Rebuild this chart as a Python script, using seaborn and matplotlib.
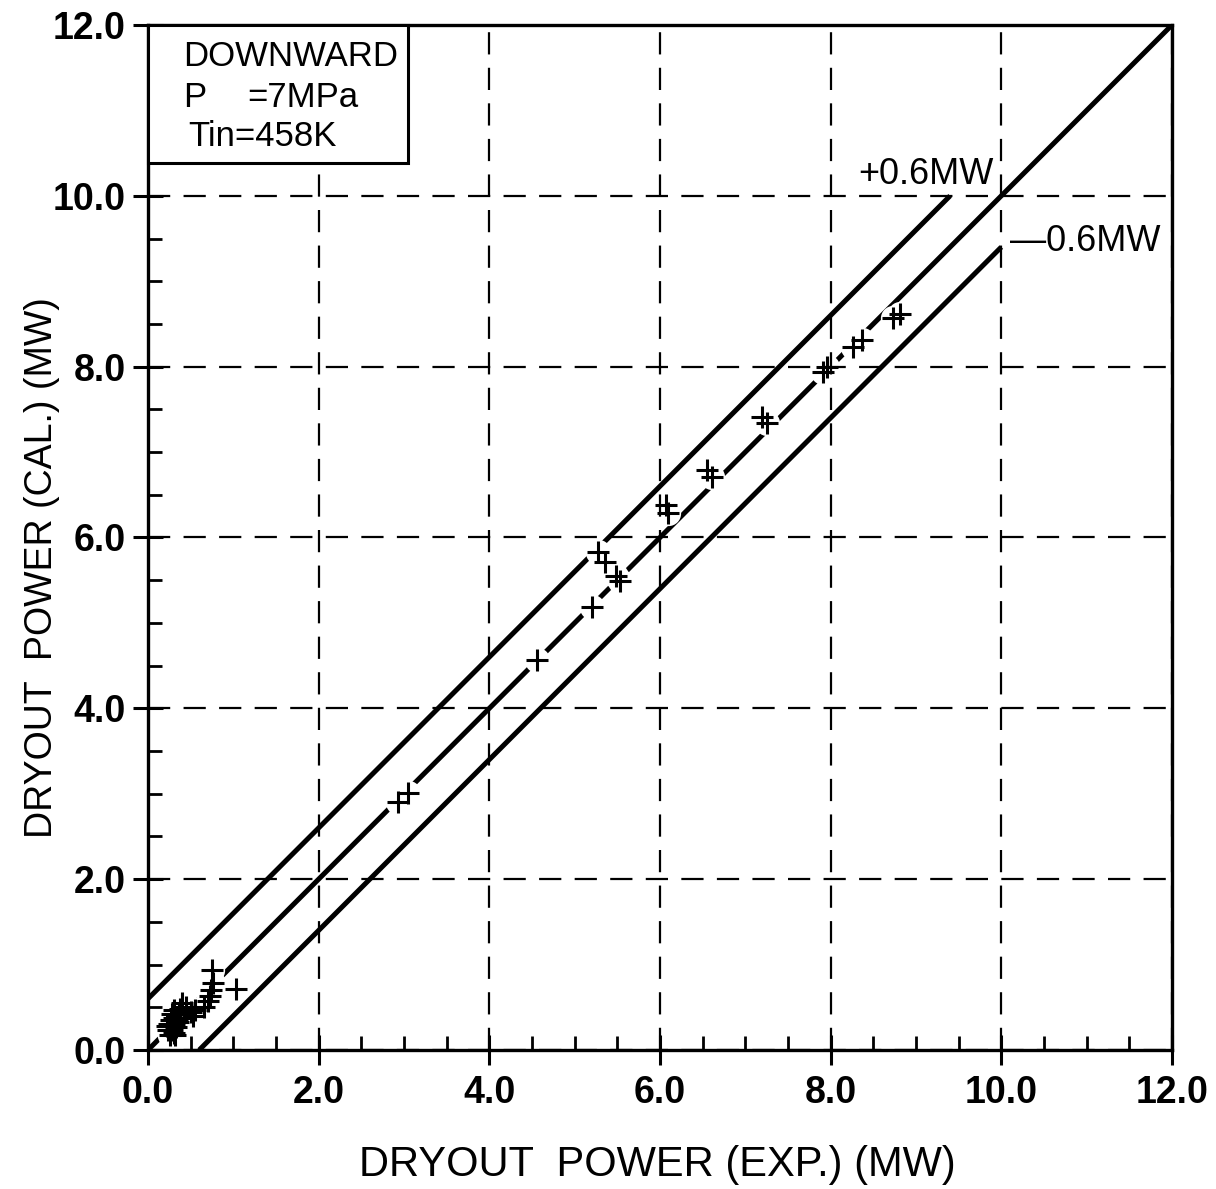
import matplotlib
matplotlib.use("Agg")
import matplotlib.pyplot as plt
from matplotlib.patches import Rectangle
import seaborn as sns
import pandas as pd

# ---- data ----
exp_power = [0.75, 1.03, 0.76, 0.74, 0.73, 0.70, 0.66, 0.55, 0.53, 0.50,
             0.45, 0.40, 0.38, 0.36, 0.34, 0.30, 0.28, 0.26, 0.30, 0.33,
             0.35, 0.38, 0.25, 0.24, 0.28, 0.31, 0.27, 0.32, 0.22, 0.30,
             2.93, 3.05, 4.56, 5.20, 5.27, 5.36, 5.49, 5.53,
             6.07, 6.09, 6.55, 6.61, 7.20, 7.25, 7.91, 7.96,
             8.26, 8.37, 8.73, 8.81]
cal_power = [0.94, 0.71, 0.78, 0.70, 0.63, 0.57, 0.50, 0.47, 0.40, 0.44,
             0.50, 0.55, 0.48, 0.42, 0.36, 0.30, 0.24, 0.18, 0.20, 0.27,
             0.33, 0.38, 0.30, 0.24, 0.42, 0.38, 0.35, 0.18, 0.28, 0.47,
             2.90, 3.01, 4.57, 5.19, 5.83, 5.71, 5.55, 5.49,
             6.38, 6.29, 6.79, 6.71, 7.41, 7.34, 7.94, 8.00,
             8.23, 8.31, 8.57, 8.62]

ref_x = [0.0, 12.0]
ref_y = [0.0, 12.0]
upper_x = [0.0, 9.4]
upper_y = [0.6, 10.0]
lower_x = [0.6, 10.0]
lower_y = [0.0, 9.4]

tick_values = [0, 2, 4, 6, 8, 10, 12]
tick_labels = ["0.0", "2.0", "4.0", "6.0", "8.0", "10.0", "12.0"]
minor_values = [0.5, 1.0, 1.5, 2.5, 3.0, 3.5, 4.5, 5.0, 5.5, 6.5, 7.0, 7.5,
                8.5, 9.0, 9.5, 10.5, 11.0, 11.5]

df = pd.DataFrame({"exp": exp_power, "cal": cal_power})

sns.set_style("ticks")
plt.rcParams["font.family"] = ["Liberation Sans", "DejaVu Sans"]
plt.rcParams["text.color"] = "black"
plt.rcParams["axes.labelcolor"] = "black"

fig = plt.figure(figsize=(12.16, 11.89), dpi=100)
ax = fig.add_axes([0.1217, 0.1169, 0.8421, 0.8621])

# reference lines
for xs, ys in [(ref_x, ref_y), (upper_x, upper_y), (lower_x, lower_y)]:
    sns.lineplot(x=xs, y=ys, ax=ax, color="black", linewidth=3.6,
                 sort=False, zorder=1, solid_capstyle="butt")

# white gaps in lines around points (as in the original drawing)
ax.scatter(df["exp"], df["cal"], marker="o", s=330, color="white",
           linewidths=0, zorder=2)

# data points
sns.scatterplot(data=df, x="exp", y="cal", ax=ax, marker="+", s=240,
                color="black", linewidth=2.2, zorder=3)

ax.set_xlim(0, 12)
ax.set_ylim(0, 12)
ax.set_xticks(tick_values)
ax.set_yticks(tick_values)
ax.set_xticklabels(tick_labels)
ax.set_yticklabels(tick_labels)
ax.set_xticks(minor_values, minor=True)
ax.set_yticks(minor_values, minor=True)

ax.set_axisbelow(False)
ax.grid(True, which="major", color="black", linewidth=1.6,
        linestyle=(0, (10, 6)))

ax.tick_params(which="major", direction="inout", length=22, width=2.2,
               labelsize=27, pad=5, colors="black",
               bottom=True, left=True, top=False, right=False)
ax.tick_params(axis="x", which="major", pad=7)
ax.tick_params(which="minor", direction="in", length=10, width=2.0,
               colors="black", bottom=True, left=True, top=False, right=False)
for lab in ax.get_xticklabels() + ax.get_yticklabels():
    lab.set_fontweight("bold")

for sp in ax.spines.values():
    sp.set_visible(True)
    sp.set_linewidth(2.4)
    sp.set_color("black")

ax.set_xlabel("DRYOUT  POWER (EXP.) (MW)", fontsize=30)
ax.set_ylabel("DRYOUT  POWER (CAL.) (MW)", fontsize=27)
ax.xaxis.set_label_coords(0.497, -0.093)
ax.yaxis.set_label_coords(-0.086, 0.471)

# info box
box = Rectangle((0.0, 0.865), 0.254, 0.135, transform=ax.transAxes,
                facecolor="white", edgecolor="black", linewidth=2.2,
                zorder=5, clip_on=False)
ax.add_patch(box)
ax.text(0.41, 11.63, "DOWNWARD", fontsize=25, va="center", ha="left", zorder=6)
ax.text(0.41, 11.15, "P", fontsize=25, va="center", ha="left", zorder=6)
ax.text(1.16, 11.15, "=7MPa", fontsize=25, va="center", ha="left", zorder=6)
ax.text(0.47, 10.69, "Tin=458K", fontsize=25, va="center", ha="left", zorder=6)

# line annotations
ax.text(8.32, 10.25, "+0.6MW", fontsize=26, va="center", ha="left", zorder=6)
ax.text(10.1, 9.47, "\u2014" + "0.6MW", fontsize=26, va="center", ha="left", zorder=6)

fig.savefig("out.png", dpi=100, facecolor="white")
